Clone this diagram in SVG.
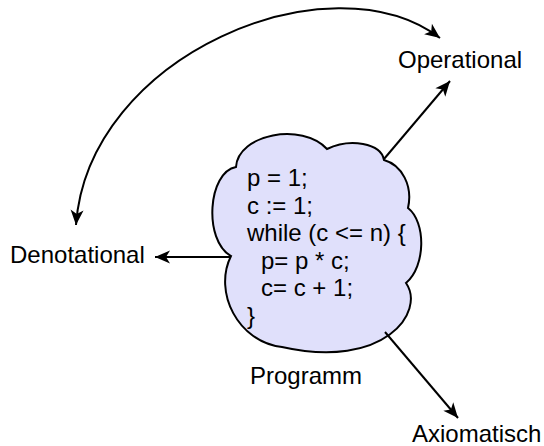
<svg xmlns="http://www.w3.org/2000/svg" width="544" height="446" viewBox="0 0 544 446">
<style>
.t{font-family:"Liberation Sans",Arial,Helvetica,sans-serif;font-size:24px;fill:#000}
.c{fill:none;stroke:#000;stroke-width:2}
</style>
<defs>
<marker id="ah" viewBox="-16 -8 18 16" refX="1" refY="0" markerWidth="18" markerHeight="16" markerUnits="userSpaceOnUse" orient="auto-start-reverse">
<path d="M1,0 L-14,-6.5 L-10,0 L-14,6.5 Z" fill="#000"/>
</marker>
</defs>
<g id="programm">
<path d="M236,167 C238,134 302,122 327,149 C350,138 381,143 384,160 C402,165 413,186 408,208 C426,222 426,266 406,283 C426,312 384,370 282,347 C238,342 213,292 231,256 C203,240 208,172 236,167 Z" fill="#e0e0fb" stroke="#000" stroke-width="2"/>
<text class="t" x="247" y="186">p = 1;</text>
<text class="t" x="247" y="213.5">c := 1;</text>
<text class="t" x="247" y="241">while (c &lt;= n) {</text>
<text class="t" x="261" y="268.5">p= p * c;</text>
<text class="t" x="261" y="296">c= c + 1;</text>
<text class="t" x="247" y="323.5">}</text>
<text class="t" x="250" y="384">Programm</text>
</g>
<g id="operational"><text class="t" x="398" y="68">Operational</text></g>
<g id="denotational"><text class="t" x="10" y="263">Denotational</text></g>
<g id="axiomatisch"><text class="t" x="412" y="442">Axiomatisch</text></g>
<g id="connectors">
<path class="c" d="M384,159 L450,81" marker-end="url(#ah)"/>
<path class="c" d="M231,257 L155,257" marker-end="url(#ah)"/>
<path class="c" d="M385,332 L458,418" marker-end="url(#ah)"/>
<path class="c" d="M76,225 C88,55 330,-45 440,38" marker-start="url(#ah)" marker-end="url(#ah)"/>
</g>
</svg>
